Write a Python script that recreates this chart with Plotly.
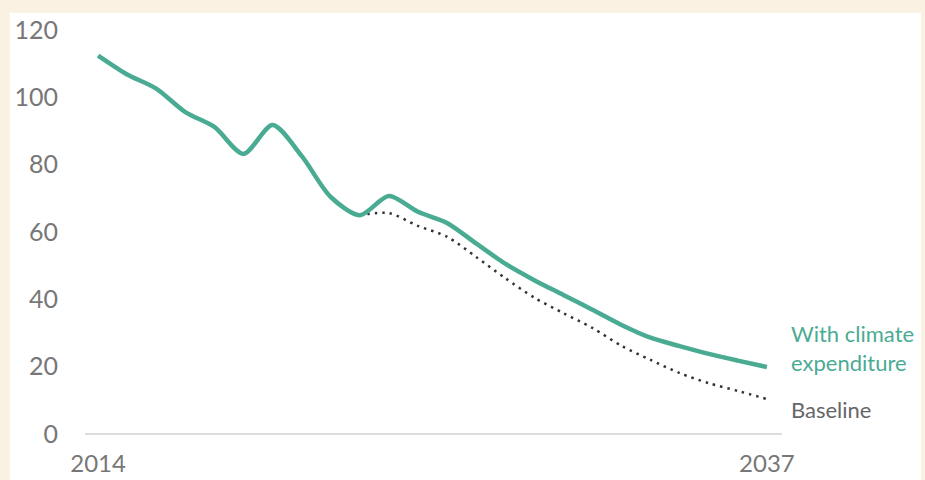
import plotly.graph_objects as go

years = list(range(2014, 2038))
with_climate = [112.4, 106.8, 102.6, 95.6, 91.2, 83.2, 91.8, 82.6, 70.4, 65.0, 70.7, 66.0,
                62.7, 56.6, 50.6, 45.7, 41.3, 36.9, 32.4, 28.6, 26.1, 23.8, 21.8, 19.9]
baseline_years = list(range(2023, 2038))
baseline = [65.0, 65.6, 61.8, 58.6, 52.6, 46.3, 40.5, 35.9, 31.5, 26.2, 22.0, 18.1, 15.1, 12.8, 10.4]

x_ticks = [2014, 2037]
y_ticks = [0, 20, 40, 60, 80, 100, 120]

green = "#4AAB93"
font = "Lato"

fig = go.Figure()
fig.add_trace(go.Scatter(x=baseline_years, y=baseline, mode="lines",
                         line=dict(color="#333333", width=2.5, dash="2.5px,5px", shape="spline", smoothing=0.8),
                         hoverinfo="skip", showlegend=False))
fig.add_trace(go.Scatter(x=years, y=with_climate, mode="lines",
                         line=dict(color=green, width=4.5, shape="spline", smoothing=0.8),
                         hoverinfo="skip", showlegend=False))

# white panel on beige background
fig.add_shape(type="rect", xref="paper", yref="paper", x0=-0.108, x1=1.1994, y0=-0.5, y1=1.017,
              fillcolor="white", line=dict(width=0), layer="below")
# zero axis line
fig.add_shape(type="line", xref="paper", yref="y", x0=0, x1=1, y0=0, y1=0,
              line=dict(color="#DDDDDD", width=2), layer="below")

fig.add_annotation(x=1.0101, y=25.4, xref="paper", yref="y", xanchor="left", yanchor="middle",
                   text="With climate<br>expenditure", showarrow=False, align="left",
                   font=dict(family=font, size=22, color=green))
fig.add_annotation(x=1.0101, y=7.2, xref="paper", yref="y", xanchor="left", yanchor="middle",
                   text="Baseline", showarrow=False, align="left",
                   font=dict(family=font, size=22, color="#666666"))

fig.update_layout(
    width=925, height=480,
    margin=dict(l=85, r=143, t=20, b=40),
    paper_bgcolor="#FAF1E2", plot_bgcolor="white",
    font=dict(family=font, color="#777777"),
    xaxis=dict(range=[2013.55, 2037.52], tickvals=x_ticks, ticktext=[str(v) for v in x_ticks],
               showgrid=False, zeroline=False, showline=False, ticks="", automargin=False,
               tickfont=dict(size=24, color="#777777"), ticklabelstandoff=7),
    yaxis=dict(range=[-1.78, 122.97], tickvals=y_ticks, showgrid=False, zeroline=False,
               showline=False, ticks="", automargin=False, tickfont=dict(size=25, color="#777777"),
               ticklabelstandoff=26),
)

fig.write_html("out.html")
